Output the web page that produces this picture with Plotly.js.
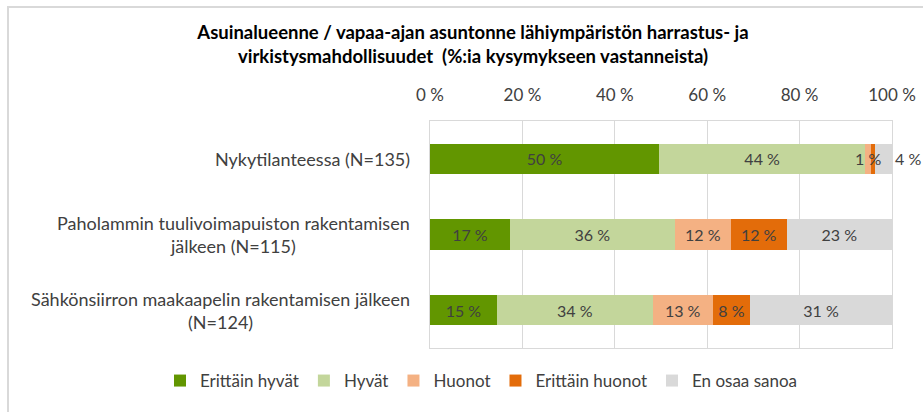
<!DOCTYPE html>
<html>
<head>
<meta charset="utf-8">
<script src="https://cdn.plot.ly/plotly-3.0.1.min.js"></script>
<style>
  html, body { margin: 0; padding: 0; background: #fff; }
  #wrap { position: relative; width: 923px; height: 412px; }
  #chart { width: 923px; height: 412px; }
  #frame { position: absolute; left: 7px; top: 6px; right: -10px; bottom: -10px;
           border-left: 2px solid #d9d9d9; border-top: 2px solid #d9d9d9;
           pointer-events: none; z-index: 10; }
</style>
</head>
<body>
<div id="wrap">
  <div id="chart"></div>
  <div id="frame"></div>
</div>
<script>
// ---- data ----
var categories = [
  "Nykytilanteessa (N=135)",
  "Paholammin tuulivoimapuiston rakentamisen<br>jälkeen (N=115)",
  "Sähkönsiirron maakaapelin rakentamisen jälkeen<br>(N=124)"
];
var seriesNames = ["Erittäin hyvät", "Hyvät", "Huonot", "Erittäin huonot", "En osaa sanoa"];

// bar lengths (%)
var erittainHyvat  = [49.6, 17.3, 14.5];
var hyvat          = [44.6, 35.7, 33.7];
var huonot         = [1.2, 12.1, 13.0];
var erittainHuonot = [0.9, 12.1, 8.1];
var enOsaaSanoa    = [3.7, 22.8, 30.7];

// printed data labels (%)
var lblErittainHyvat  = [50, 17, 15];
var lblHyvat          = [44, 36, 34];
var lblHuonot         = [1, 12, 13];
var lblErittainHuonot = [null, 12, 8];
var lblEnOsaaSanoa    = [4, 23, 31];

var tickVals   = [0, 20, 40, 60, 80, 100];
var tickLabels = ["0 %", "20 %", "40 %", "60 %", "80 %", "100 %"];

var titleText = "Asuinalueenne / vapaa-ajan asuntonne lähiympäristön harrastus- ja<br>virkistysmahdollisuudet  (%:ia kysymykseen vastanneista)";

// ---- style ----
var colors = ["#629600", "#c3d69b", "#f4b183", "#e36c0a", "#d9d9d9"];
var FONT = "Lato, 'Liberation Sans', sans-serif";
var TXT = "#404040";
var LBL_SIZE = 16;

var values = [erittainHyvat, hyvat, huonot, erittainHuonot, enOsaaSanoa];
var labels = [lblErittainHyvat, lblHyvat, lblHuonot, lblErittainHuonot, lblEnOsaaSanoa];

// labels of the thin segments of the first bar are drawn as annotations (on top)
var positions = [
  ["inside", "inside", "inside"],
  ["inside", "inside", "inside"],
  ["none", "inside", "inside"],
  ["none", "inside", "inside"],
  ["none", "inside", "inside"]
];

var traces = values.map(function (v, i) {
  return {
    type: "bar",
    orientation: "h",
    name: seriesNames[i],
    x: v,
    y: categories,
    text: labels[i].map(function (l) { return l === null ? "" : l + " %"; }),
    textposition: positions[i],
    insidetextanchor: "middle",
    textangle: 0,
    constraintext: "none",
    cliponaxis: false,
    textfont: { family: FONT, size: LBL_SIZE, color: TXT },
    insidetextfont: { family: FONT, size: LBL_SIZE, color: TXT },
    marker: { color: colors[i], line: { width: 0 } },
    hoverinfo: "x+name"
  };
});

var annotations = categories.map(function (c) {
  return {
    xref: "paper", yref: "y", x: 0, y: c,
    xanchor: "right", yanchor: "middle", xshift: -18,
    align: "center", showarrow: false,
    text: c,
    font: { family: FONT, size: 18, color: TXT }
  };
});

// first bar: label of "Huonot" centred on its segment, "En osaa sanoa" just after bar end
var start0 = erittainHyvat[0] + hyvat[0];
annotations.push({
  xref: "x", yref: "y", x: start0 + huonot[0] / 2, y: categories[0],
  xanchor: "center", yanchor: "middle", showarrow: false,
  text: lblHuonot[0] + " %",
  font: { family: FONT, size: LBL_SIZE, color: TXT }
});
var end0 = Math.round((start0 + huonot[0] + erittainHuonot[0] + enOsaaSanoa[0]) * 1000) / 1000;
annotations.push({
  xref: "x", yref: "y", x: end0, y: categories[0],
  xanchor: "left", yanchor: "middle", xshift: 1, showarrow: false,
  text: lblEnOsaaSanoa[0] + " %",
  font: { family: FONT, size: LBL_SIZE, color: TXT }
});

var layout = {
  width: 923, height: 412,
  margin: { l: 430, r: 31, t: 121, b: 64, pad: 0 },
  paper_bgcolor: "#ffffff",
  plot_bgcolor: "#ffffff",
  barmode: "stack",
  bargap: 0.6,
  showlegend: true,
  title: {
    text: titleText,
    x: 473 / 923, xref: "container", xanchor: "center",
    y: 1 - 39 / 412, yref: "container", yanchor: "top",
    font: { family: FONT, size: 18.5, color: "#000000", weight: "bold" }
  },
  xaxis: {
    side: "top",
    range: [0, 100],
    tickvals: tickVals,
    ticktext: tickLabels,
    ticks: "",
    ticklabelstandoff: 12,
    showgrid: true,
    gridcolor: "#d9d9d9",
    gridwidth: 1,
    showline: true, mirror: true,
    linecolor: "#d9d9d9", linewidth: 1,
    zeroline: false,
    fixedrange: true,
    tickfont: { family: FONT, size: 17, color: TXT }
  },
  yaxis: {
    type: "category",
    autorange: "reversed",
    showticklabels: false,
    ticks: "",
    showgrid: false,
    showline: true, mirror: true,
    linecolor: "#d9d9d9", linewidth: 1,
    zeroline: false,
    fixedrange: true
  },
  legend: {
    orientation: "h",
    xref: "paper", x: (160 - 430) / 462, xanchor: "left",
    yref: "paper", y: (348 - 381) / 227, yanchor: "middle",
    traceorder: "normal",
    font: { family: FONT, size: 17, color: TXT },
    itemwidth: 30
  },
  annotations: annotations
};

Plotly.newPlot("chart", traces, layout, { displayModeBar: false, staticPlot: true });
</script>
</body>
</html>
